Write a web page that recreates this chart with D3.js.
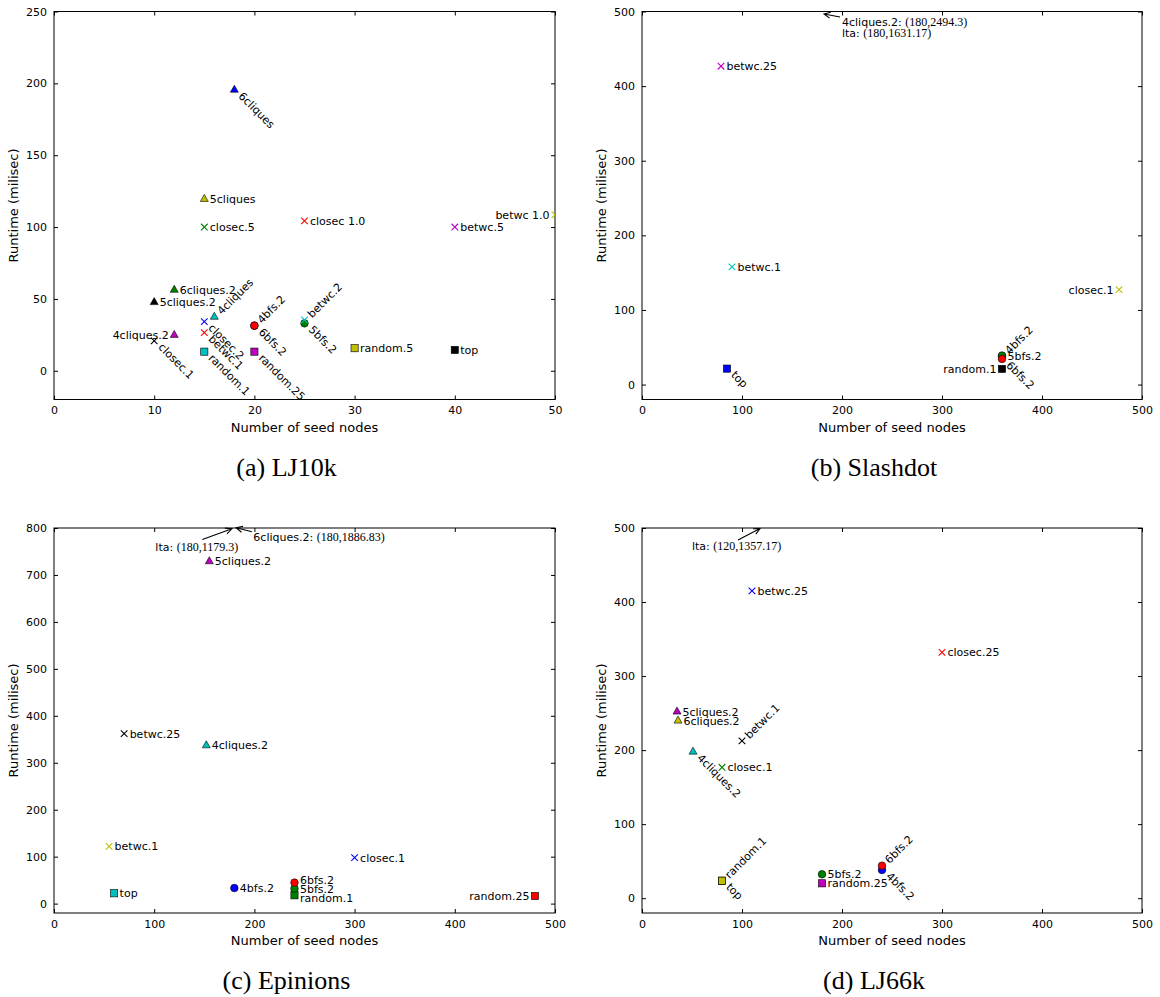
<!DOCTYPE html>
<html>
<head>
<meta charset="utf-8">
<script src="https://cdn.jsdelivr.net/npm/d3@7"></script>
<style>
  body { margin: 0; background: #fff; }
  svg text { font-family: "DejaVu Sans", sans-serif; }
</style>
</head>
<body>
<svg id="fig" width="1160" height="997"></svg>
<script>
// ---- LJ10k ----
const lj10kNames = ["6cliques", "5cliques", "closec.5", "closec 1.0", "betwc.5", "betwc 1.0",
  "6cliques.2", "5cliques.2", "4cliques", "closec.2", "betwc.1", "4cliques.2", "closec.1",
  "random.1", "4bfs.2", "6bfs.2", "random.25", "5bfs.2", "betwc.2", "random.5", "top"];
const lj10kSeeds = [18, 15, 15, 25, 40, 50, 12, 10, 16, 15, 15, 12, 10, 15, 20, 20, 20, 25, 25, 30, 40];
const lj10kRuntime = [195.5, 119.5, 100, 104.3, 100, 108.5, 56.3, 47.7, 37.5, 34.2, 26.5, 24.9, 20.8,
  13.3, 31.4, 31.4, 13.3, 33, 35.4, 15.7, 14.5];

// ---- Slashdot ----
const slashdotNames = ["betwc.25", "betwc.1", "top", "closec.1", "4bfs.2", "5bfs.2", "6bfs.2", "random.1"];
const slashdotSeeds = [79, 90, 85, 477, 360, 360, 360, 360];
const slashdotRuntime = [426.7, 157.8, 21.4, 127.3, 38, 38.9, 34.4, 21];
const slashdotOffNames = ["4cliques.2", "lta"];
const slashdotOffSeeds = [180, 180];
const slashdotOffRuntime = ["2494.3", "1631.17"];

// ---- Epinions ----
const epinionsNames = ["5cliques.2", "betwc.25", "4cliques.2", "betwc.1", "top", "4bfs.2",
  "random.1", "5bfs.2", "6bfs.2", "closec.1", "random.25"];
const epinionsSeeds = [155, 70, 152, 55, 60, 180, 240, 240, 240, 300, 480];
const epinionsRuntime = [729, 362, 337, 122, 22, 33.2, 17.7, 32, 44.7, 98, 16.2];
const epinionsOffNames = ["lta", "6cliques.2"];
const epinionsOffSeeds = [180, 180];
const epinionsOffRuntime = ["1179.3", "1886.83"];

// ---- LJ66k ----
const lj66kNames = ["betwc.25", "closec.25", "5cliques.2", "6cliques.2", "4cliques.2", "closec.1",
  "betwc.1", "top", "random.1", "5bfs.2", "random.25", "4bfs.2", "6bfs.2"];
const lj66kSeeds = [110, 300, 35, 36, 51, 80, 100, 80, 80, 180, 180, 240, 240];
const lj66kRuntime = [415, 332, 251.9, 239.7, 197.8, 176.8, 212.4, 23.6, 23.6, 32.3, 20.1, 38.1, 43.9];
const lj66kOffNames = ["lta"];
const lj66kOffSeeds = [120];
const lj66kOffRuntime = ["1357.17"];

// axis ticks and captions
const seedTicksSmall = [0, 10, 20, 30, 40, 50];
const seedTicksLarge = [0, 100, 200, 300, 400, 500];
const runtimeTicksA = [0, 50, 100, 150, 200, 250];
const runtimeTicks500 = [0, 100, 200, 300, 400, 500];
const runtimeTicks800 = [0, 100, 200, 300, 400, 500, 600, 700, 800];
const captions = ["(a) LJ10k", "(b) Slashdot", "(c) Epinions", "(d) LJ66k"];
const xTitle = "Number of seed nodes";
const yTitle = "Runtime (milisec)";

// ---- styling (kept apart from the values) ----
const palette = { b: "#0000ff", g: "#008000", r: "#ff0000", c: "#00bfbf", m: "#bf00bf", y: "#bfbf00", k: "#000000" };
const lj10kColors = ["b", "y", "g", "r", "m", "y", "g", "k", "c", "b", "r", "m", "k", "c", "b", "r", "m", "g", "c", "y", "k"];
const lj10kSides  = ["d", "r", "r", "r", "r", "l", "r", "r", "u", "d", "d", "l", "d", "d", "u", "d", "d", "d", "u", "r", "r"];
const slashdotColors = ["m", "c", "b", "y", "b", "g", "r", "k"];
const slashdotSides  = ["r", "r", "d", "l", "u", "r", "d", "l"];
const epinionsColors = ["m", "k", "c", "y", "c", "b", "g", "g", "r", "b", "r"];
const epinionsSides  = ["r", "r", "r", "r", "r", "r", "r", "r", "r", "r", "l"];
const epinionsLabelNudge = [0, 0, 0, 0, 0, 0, 2.5, 0, -3, 0, 0];
const lj66kColors = ["b", "r", "m", "y", "c", "g", "k", "k", "y", "g", "m", "b", "r"];
const lj66kSides  = ["r", "r", "r", "r", "d", "r", "u", "d", "u", "r", "r", "d", "u"];

const panels = [
  { frame: { x: 54, y: 11.5, w: 501, h: 388 }, xDom: [0, 50], yDom: [-20, 250],
    xTicks: seedTicksSmall, yTicks: runtimeTicksA, caption: captions[0],
    names: lj10kNames, xs: lj10kSeeds, ys: lj10kRuntime, colors: lj10kColors, sides: lj10kSides,
    nudge: null, notes: null },
  { frame: { x: 642, y: 11.5, w: 500, h: 388 }, xDom: [0, 500], yDom: [-20, 500],
    xTicks: seedTicksLarge, yTicks: runtimeTicks500, caption: captions[1],
    names: slashdotNames, xs: slashdotSeeds, ys: slashdotRuntime, colors: slashdotColors, sides: slashdotSides,
    nudge: null,
    notes: { names: slashdotOffNames, xs: slashdotOffSeeds, vals: slashdotOffRuntime,
             tip: [[2, 2.5], null], tail: [[18, 5.5], null], text: [[20, 11], [20, 22]] } },
  { frame: { x: 54, y: 528, w: 501, h: 385 }, xDom: [0, 500], yDom: [-20, 800],
    xTicks: seedTicksLarge, yTicks: runtimeTicks800, caption: captions[2],
    names: epinionsNames, xs: epinionsSeeds, ys: epinionsRuntime, colors: epinionsColors, sides: epinionsSides,
    nudge: epinionsLabelNudge,
    notes: { names: epinionsOffNames, xs: epinionsOffSeeds, vals: epinionsOffRuntime,
             tip: [[-2.5, 0.8], [1.8, -0.3]], tail: [[-32, 11.5], [17.5, 3.8]], text: [[-79, 19], [19, 9.5]] } },
  { frame: { x: 642, y: 528, w: 500, h: 385 }, xDom: [0, 500], yDom: [-20, 500],
    xTicks: seedTicksLarge, yTicks: runtimeTicks500, caption: captions[3],
    names: lj66kNames, xs: lj66kSeeds, ys: lj66kRuntime, colors: lj66kColors, sides: lj66kSides,
    nudge: null,
    notes: { names: lj66kOffNames, xs: lj66kOffSeeds, vals: lj66kOffRuntime,
             tip: [[-2, 0.5]], tail: [[-24, 12]], text: [[-70, 18]] } }
];

const svg = d3.select("#fig");
svg.append("rect").attr("width", 1160).attr("height", 997).attr("fill", "#fff");

function markerKind(name) {
  if (/cliques/.test(name)) return "tri";
  if (/bfs/.test(name)) return "circle";
  if (/^(random|top)/.test(name)) return "square";
  return "x";
}

function drawMarker(g, kind, color) {
  const edge = "#000", ew = 0.6;
  if (kind === "tri") {
    g.append("path").attr("d", "M0,-4.6L4,2.4L-4,2.4Z").attr("fill", color)
      .attr("stroke", edge).attr("stroke-width", ew);
  } else if (kind === "circle") {
    g.append("circle").attr("r", 3.8).attr("fill", color)
      .attr("stroke", edge).attr("stroke-width", ew);
  } else if (kind === "square") {
    g.append("rect").attr("x", -3.6).attr("y", -3.6).attr("width", 7.2).attr("height", 7.2)
      .attr("fill", color).attr("stroke", edge).attr("stroke-width", ew);
  } else {
    g.append("path").attr("d", "M-3.3,-3.3L3.3,3.3M-3.3,3.3L3.3,-3.3")
      .attr("stroke", color).attr("stroke-width", 1.1).attr("fill", "none");
  }
}

panels.forEach((p, pi) => {
  const f = p.frame;
  const x = d3.scaleLinear().domain(p.xDom).range([f.x, f.x + f.w]);
  const y = d3.scaleLinear().domain(p.yDom).range([f.y + f.h, f.y]);
  const g = svg.append("g");

  const clipId = "clip" + pi;
  svg.append("clipPath").attr("id", clipId).append("rect")
    .attr("x", f.x).attr("y", f.y).attr("width", f.w).attr("height", f.h);

  // axes: ticks point inward on all four sides
  const tickLen = 4;
  const axB = d3.axisBottom(x).tickValues(p.xTicks).tickSizeInner(-tickLen).tickSizeOuter(0).tickPadding(7);
  const axT = d3.axisTop(x).tickValues(p.xTicks).tickSizeInner(-tickLen).tickSizeOuter(0).tickFormat("");
  const axL = d3.axisLeft(y).tickValues(p.yTicks).tickSizeInner(-tickLen).tickSizeOuter(0).tickPadding(7);
  const axR = d3.axisRight(y).tickValues(p.yTicks).tickSizeInner(-tickLen).tickSizeOuter(0).tickFormat("");
  const gB = g.append("g").attr("transform", `translate(0,${f.y + f.h})`).call(axB);
  const gT = g.append("g").attr("transform", `translate(0,${f.y})`).call(axT);
  const gL = g.append("g").attr("transform", `translate(${f.x},0)`).call(axL);
  const gR = g.append("g").attr("transform", `translate(${f.x + f.w},0)`).call(axR);
  [gB, gT, gL, gR].forEach(a => {
    a.select(".domain").remove();
    a.selectAll("line").attr("stroke", "#000").attr("stroke-width", 1);
    a.selectAll("text").attr("fill", "#000").attr("font-size", 11)
      .attr("font-family", "DejaVu Sans, sans-serif");
  });
  g.append("rect").attr("x", f.x).attr("y", f.y).attr("width", f.w).attr("height", f.h)
    .attr("fill", "none").attr("stroke", "#000").attr("stroke-width", 1);

  // axis titles
  g.append("text").attr("x", f.x + f.w / 2).attr("y", f.y + f.h + 32)
    .attr("text-anchor", "middle").attr("font-size", 13).text(xTitle);
  g.append("text").attr("transform", `translate(${f.x - 36},${f.y + f.h / 2}) rotate(-90)`)
    .attr("text-anchor", "middle").attr("font-size", 13).text(yTitle);

  // caption
  g.append("text").attr("x", f.x + f.w / 2 - 18).attr("y", f.y + f.h + 76)
    .attr("text-anchor", "middle").attr("font-size", 26)
    .style("font-family", "'Liberation Serif', 'DejaVu Serif', serif").text(p.caption);

  // markers
  const mk = g.append("g").attr("clip-path", `url(#${clipId})`);
  p.names.forEach((name, i) => {
    const m = mk.append("g").attr("transform", `translate(${x(p.xs[i])},${y(p.ys[i])})`);
    drawMarker(m, markerKind(name), palette[p.colors[i]]);
  });

  // point labels
  const lb = g.append("g").attr("font-size", 11).attr("fill", "#000");
  p.names.forEach((name, i) => {
    const px = x(p.xs[i]), py = y(p.ys[i]) + (p.nudge ? p.nudge[i] : 0);
    const s = p.sides[i];
    if (s === "r") {
      lb.append("text").attr("x", px + 5.5).attr("y", py).attr("dy", "0.36em").text(name);
    } else if (s === "l") {
      lb.append("text").attr("x", px - 5.5).attr("y", py).attr("dy", "0.36em")
        .attr("text-anchor", "end").text(name);
    } else if (s === "u") {
      lb.append("text").attr("transform", `translate(${px + 7.5},${py - 1.5}) rotate(-45)`).text(name);
    } else {
      lb.append("text").attr("transform", `translate(${px + 3.5},${py + 7}) rotate(45)`).text(name);
    }
  });

  // off-scale points: arrows to the top edge with their true coordinates
  if (p.notes) {
    const n = p.notes;
    n.names.forEach((name, i) => {
      const ax = x(n.xs[i]), ay = y(p.yDom[1]);
      if (n.tip[i]) {
        const tx = ax + n.tip[i][0], ty = ay + n.tip[i][1];
        const sx = ax + n.tail[i][0], sy = ay + n.tail[i][1];
        const ang = Math.atan2(ty - sy, tx - sx);
        const hl = 7, hw = 0.45;
        g.append("path")
          .attr("d", `M${sx},${sy}L${tx},${ty}` +
            `M${tx - hl * Math.cos(ang - hw)},${ty - hl * Math.sin(ang - hw)}L${tx},${ty}` +
            `L${tx - hl * Math.cos(ang + hw)},${ty - hl * Math.sin(ang + hw)}`)
          .attr("fill", "none").attr("stroke", "#000").attr("stroke-width", 1.1);
      }
      const t = g.append("text").attr("x", ax + n.text[i][0]).attr("y", ay + n.text[i][1])
        .attr("dy", "0.36em").attr("font-size", 11);
      t.append("tspan").text(name + ": ");
      t.append("tspan").style("font-family", "'Liberation Serif', 'DejaVu Serif', serif")
        .attr("font-size", 12).text(`(${n.xs[i]},${n.vals[i]})`);
    });
  }
});
</script>
</body>
</html>
